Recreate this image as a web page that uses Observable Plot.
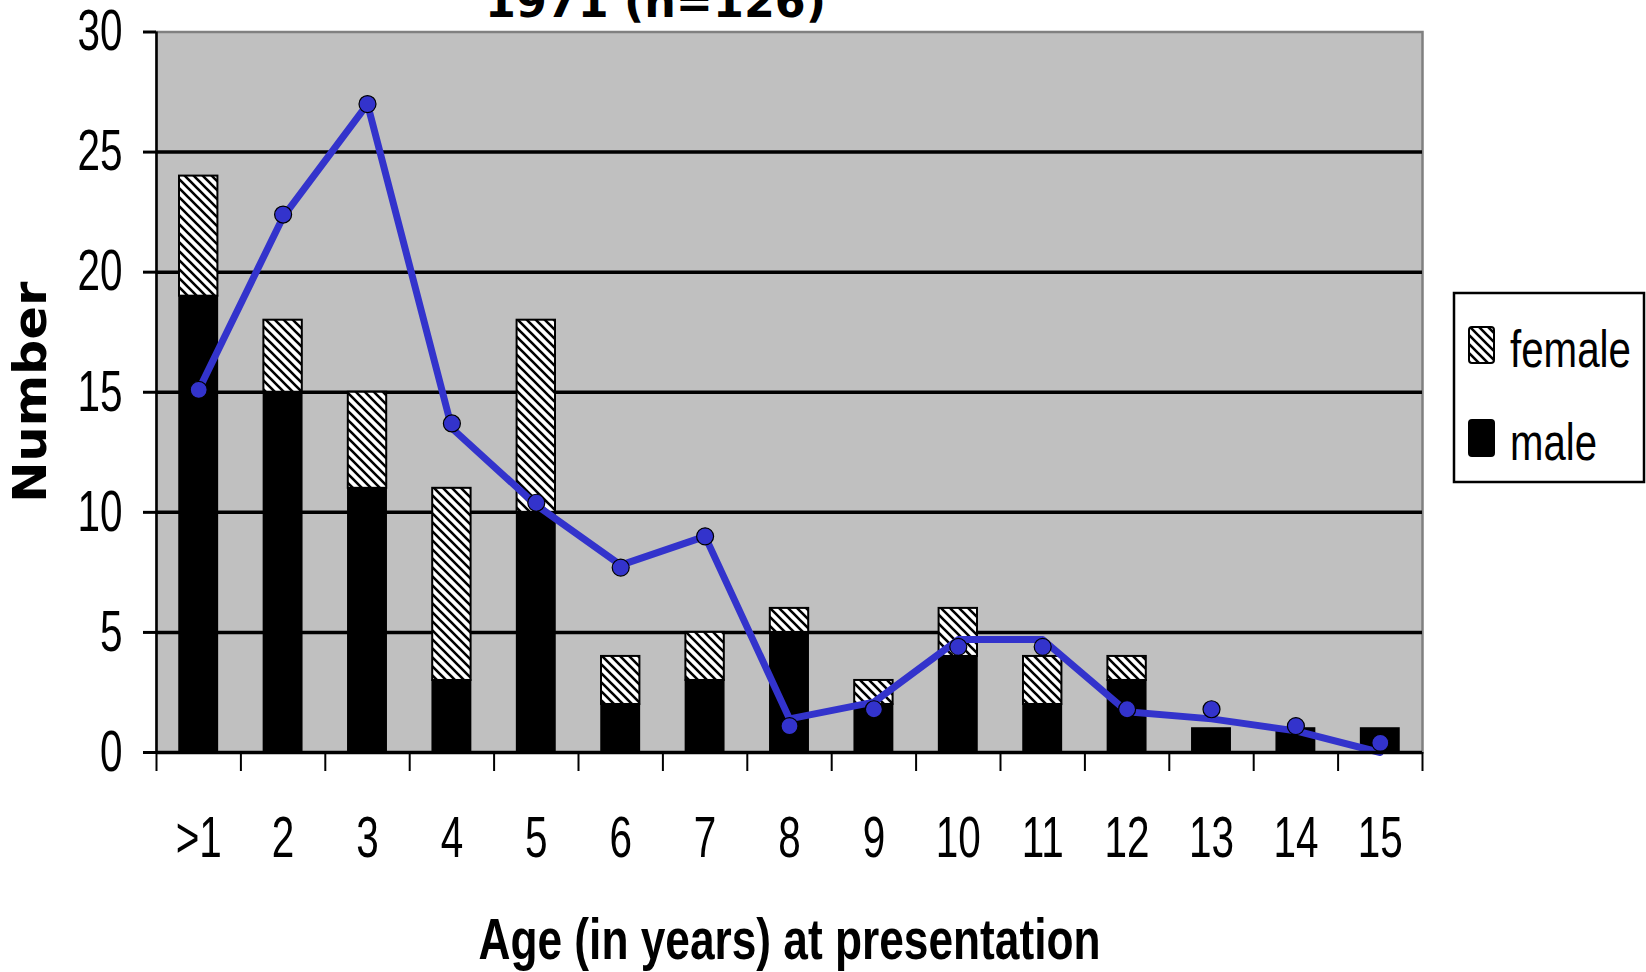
<!DOCTYPE html>
<html><head><meta charset="utf-8">
<script src="https://cdn.jsdelivr.net/npm/d3@7"></script>
<script src="https://cdn.jsdelivr.net/npm/@observablehq/plot@0.6"></script>
<style>
html,body{margin:0;padding:0;background:#fff;overflow:hidden;}
#wrap{position:relative;width:1646px;height:972px;overflow:hidden;background:#fff;}
#wrap > svg{position:absolute;left:0;top:0;}
</style></head>
<body>
<svg width="0" height="0" style="position:absolute;left:0;top:0">
  <defs>
    <pattern id="hatch" patternUnits="userSpaceOnUse" width="9" height="9">
      <rect width="9" height="9" fill="white"/>
      <path d="M-1,-1 L10,10 M-1,8 L1,10 M8,-1 L10,1" stroke="black" stroke-width="2.6"/>
    </pattern>
  </defs>
</svg>
<div id="wrap"></div>
<script>
// ---- data ----
const ages = [">1","2","3","4","5","6","7","8","9","10","11","12","13","14","15"];
const male = [19,15,11,3,10,2,3,5,2,4,2,3,1,1,1];
const female = [5,3,4,8,8,2,2,1,1,2,2,1,0,0,0];
const trendLine = [15.1,22.3,27.0,13.5,10.3,7.8,9.0,1.4,2.1,4.7,4.7,1.7,1.4,0.9,0.0];
const trendPoints = [15.1,22.4,27.0,13.7,10.4,7.7,9.0,1.1,1.8,4.4,4.4,1.8,1.8,1.1,0.4];
const yTicks = [0,5,10,15,20,25,30];
const gridValues = [5,10,15,20,25];
const title = "1971 (n=126)";
const xTitle = "Age (in years) at presentation";
const yTitle = "Number";
const legendLabels = ["female","male"];
const legendFills = ["url(#hatch)","black"];

// ---- chart ----
const narrow = "'Liberation Sans Narrow','Arial Narrow','Liberation Sans',sans-serif";
const idx = d3.range(ages.length);
const bounds = d3.range(ages.length + 1);
const centers = idx.map(i => i + 0.5);

const chart = Plot.plot({
  width: 1646, height: 972,
  marginLeft: 156, marginRight: 224, marginTop: 31.5, marginBottom: 220,
  x: {domain: [0, ages.length], axis: null},
  y: {domain: [0, 30], axis: null},
  style: {fontFamily: narrow, background: "white", color: "black", overflow: "visible"},
  marks: [
    Plot.frame({fill: "#c0c0c0", stroke: "#808080", strokeWidth: 2.5}),
    Plot.ruleY(gridValues, {stroke: "black", strokeWidth: 3.5}),
    Plot.rectY(idx, {x1: i => i, x2: i => i + 1, y1: 0, y2: i => male[i],
      fill: "black", stroke: "black", strokeWidth: 1.5, insetLeft: 23, insetRight: 23}),
    Plot.rectY(idx.filter(i => female[i] > 0), {x1: i => i, x2: i => i + 1,
      y1: i => male[i], y2: i => male[i] + female[i],
      fill: "url(#hatch)", stroke: "black", strokeWidth: 2, insetLeft: 23, insetRight: 23}),
    Plot.line(idx, {x: i => i + 0.5, y: i => trendLine[i], stroke: "#3333cc", strokeWidth: 7}),
    Plot.dot(idx, {x: i => i + 0.5, y: i => trendPoints[i], r: 8.5, fill: "#3333cc", stroke: "black", strokeWidth: 1.2}),
    Plot.ruleX([0], {stroke: "black", strokeWidth: 2.5}),
    Plot.ruleY([0], {stroke: "black", strokeWidth: 3.5}),
    Plot.axisY(yTicks, {tickSize: 13, tickPadding: 21, strokeWidth: 3, fontSize: 57, fontFamily: narrow, label: null}),
    Plot.axisX(bounds, {tickSize: 19, strokeWidth: 2, tickFormat: () => "", label: null}),
    Plot.axisX(centers, {tickSize: 0, tickPadding: 64, fontSize: 57, fontFamily: narrow,
      tickFormat: v => ages[Math.floor(v)], label: null}),
    Plot.text([xTitle], {frameAnchor: "bottom", dy: 206, lineAnchor: "bottom", fontSize: 57,
      fontWeight: "bold", fontFamily: narrow, fill: "black"}),
    Plot.text([yTitle], {frameAnchor: "left", textAnchor: "middle", dx: -126, rotate: -90, fontSize: 47,
      fontWeight: "bold", fontFamily: "'DejaVu Sans',sans-serif", fill: "black"}),
    Plot.text([title], {frameAnchor: "top", dx: -134, dy: -15.5, lineAnchor: "bottom", fontSize: 44,
      fontWeight: "bold", fontFamily: "'DejaVu Sans',sans-serif", fill: "black"})
  ]
});
const wrap = document.getElementById("wrap");
wrap.appendChild(chart);

// ---- condense text widths to match the reference ----
function fit(el, w) { el.setAttribute("textLength", w); el.setAttribute("lengthAdjust", "spacingAndGlyphs"); }
const allText = Array.from(chart.querySelectorAll("text"));
const sample = allText.find(t => t.textContent === "30");
const k = sample ? 45 / sample.getComputedTextLength() : 1;
allText.forEach(t => {
  const s = t.textContent;
  if (s === xTitle) fit(t, 622);
  else if (s === yTitle) fit(t, 221);
  else if (s === title) fit(t, 341);
  else if (s.length) fit(t, t.getComputedTextLength() * k);
});

// ---- legend ----
const leg = d3.select(wrap).append("svg")
  .attr("width", 194).attr("height", 193)
  .style("left", "1452px").style("top", "291px");
leg.append("rect").attr("x", 2).attr("y", 2).attr("width", 190).attr("height", 189)
  .attr("fill", "white").attr("stroke", "black").attr("stroke-width", 2.5);
const item = leg.selectAll("g.item").data(legendLabels).join("g").attr("class", "item")
  .attr("transform", (d, i) => `translate(0,${i * 93})`);
item.append("rect").attr("x", 17).attr("y", 36).attr("width", 25).attr("height", 36).attr("rx", 3)
  .attr("fill", (d, i) => legendFills[i]).attr("stroke", "black").attr("stroke-width", 2);
item.append("text").attr("x", 58).attr("y", 76).attr("font-family", narrow).attr("font-size", 52)
  .attr("fill", "black").text(d => d)
  .each(function(d) { fit(this, d === "female" ? 121 : 87); });
</script>
</body></html>
